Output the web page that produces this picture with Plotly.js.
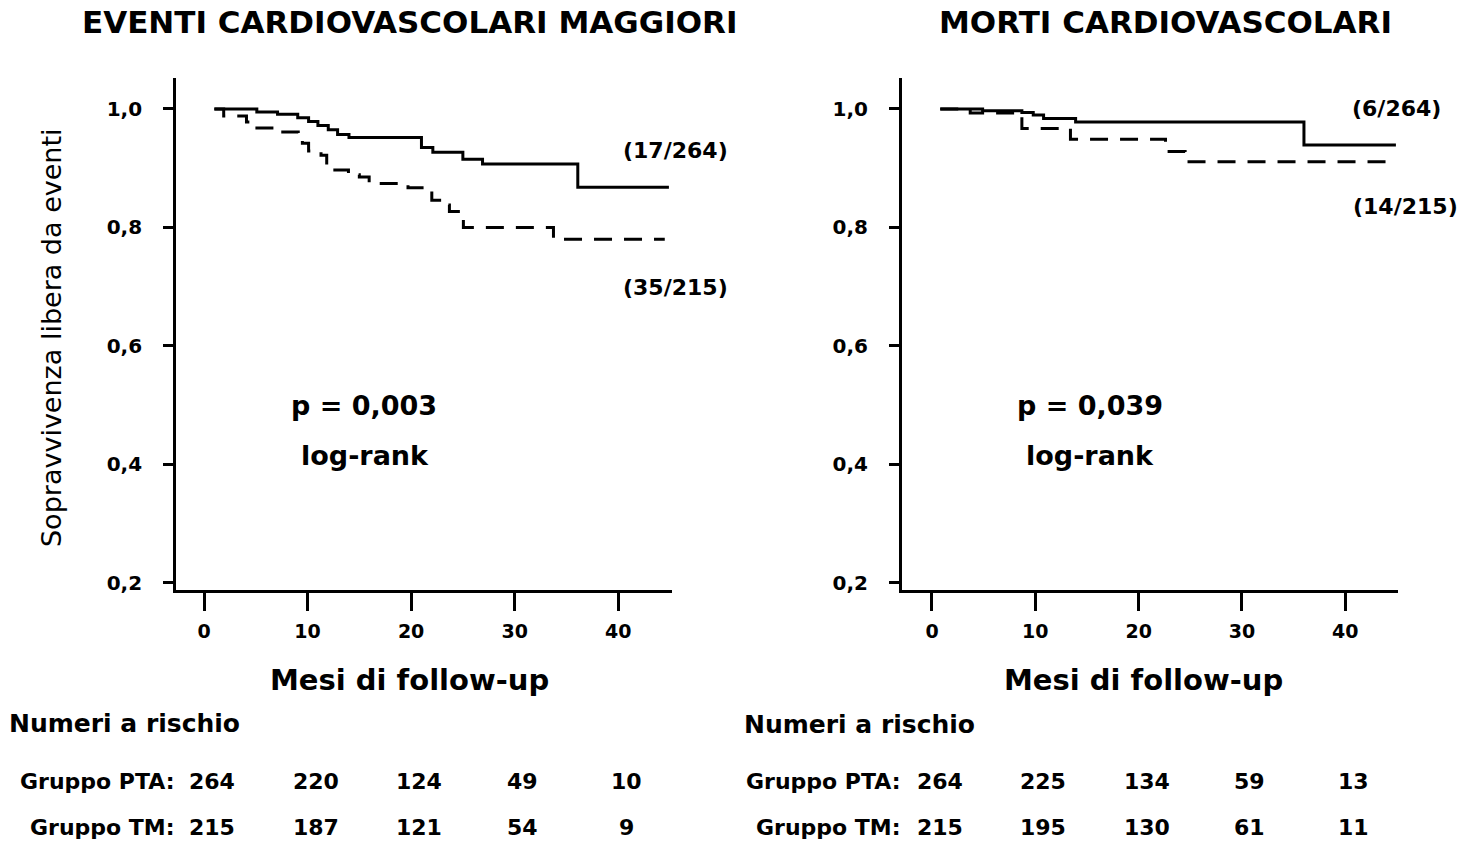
<!DOCTYPE html>
<html>
<head>
<meta charset="utf-8">
<script src="https://cdn.plot.ly/plotly-3.0.1.min.js"></script>
<style>html,body{margin:0;padding:0;background:#fff;}#chart{width:1466px;height:842px;}</style>
</head>
<body>
<div id="chart"></div>
<script>
// ---- Data ----
// Panel 1: EVENTI CARDIOVASCOLARI MAGGIORI
const mace_pta_t = [1, 5.1, 7.1, 9.05, 10.1, 11.0, 12.0, 12.9, 14.0, 21.0, 22.1, 25.0, 26.9, 36.1, 44.9];
const mace_pta_s = [1.0, 0.995, 0.991, 0.985, 0.979, 0.972, 0.965, 0.957, 0.952, 0.935, 0.927, 0.915, 0.907, 0.868, 0.868];
const mace_tm_t = [1, 1.9, 4.1, 4.9, 7.3, 9.1, 9.5, 10.1, 11.3, 11.85, 13.95, 15.0, 15.95, 19.7, 22.0, 23.1, 23.7, 25.05, 33.75, 44.5];
const mace_tm_s = [1.0, 0.988, 0.978, 0.968, 0.961, 0.953, 0.942, 0.929, 0.922, 0.897, 0.889, 0.885, 0.874, 0.867, 0.846, 0.838, 0.827, 0.800, 0.780, 0.780];
// Panel 2: MORTI CARDIOVASCOLARI
const cvd_pta_t = [0.8, 4.9, 8.7, 9.8, 10.8, 13.9, 36.0, 44.9];
const cvd_pta_s = [1.0, 0.997, 0.994, 0.990, 0.984, 0.978, 0.939, 0.939];
const cvd_tm_t = [0.8, 3.7, 8.7, 13.4, 22.6, 24.5, 44.0];
const cvd_tm_s = [1.0, 0.993, 0.967, 0.949, 0.928, 0.911, 0.911];

const xTicks = [0, 10, 20, 30, 40];
const yTicks = [0.2, 0.4, 0.6, 0.8, 1.0];

const panelTitles = ["EVENTI CARDIOVASCOLARI MAGGIORI", "MORTI CARDIOVASCOLARI"];
const xTitle = "Mesi di follow-up";
const yTitle = "Sopravvivenza libera da eventi";
const pValues = ["p = 0,003", "p = 0,039"];
const testLabel = "log-rank";
const eventsPTA = ["(17/264)", "(6/264)"];
const eventsTM = ["(35/215)", "(14/215)"];

const riskHeader = "Numeri a rischio";
const groupLabels = ["Gruppo PTA:", "Gruppo TM:"];
const riskTimes = [0, 10, 20, 30, 40];
const risk1_pta = [264, 220, 124, 49, 10];
const risk1_tm  = [215, 187, 121, 54, 9];
const risk2_pta = [264, 225, 134, 59, 13];
const risk2_tm  = [215, 195, 130, 61, 11];

// ---- Styling ----
const FF = "DejaVu Sans, Liberation Sans, Arial, sans-serif";
const bold = (size) => ({family: FF, size: size, color: "#000", weight: "bold"});
const solid = {color: "#000", width: 3, shape: "hv"};
const dashed = {color: "#000", width: 3, shape: "hv", dash: "18px,12px"};

const traces = [
  {x: mace_pta_t, y: mace_pta_s, xaxis: "x", yaxis: "y", mode: "lines", line: solid, hoverinfo: "skip"},
  {x: mace_tm_t, y: mace_tm_s, xaxis: "x", yaxis: "y", mode: "lines", line: dashed, hoverinfo: "skip"},
  {x: cvd_pta_t, y: cvd_pta_s, xaxis: "x2", yaxis: "y2", mode: "lines", line: solid, hoverinfo: "skip"},
  {x: cvd_tm_t, y: cvd_tm_s, xaxis: "x2", yaxis: "y2", mode: "lines", line: dashed, hoverinfo: "skip"}
];

function xa(domain, range, anchor) {
  return {domain: domain, range: range, anchor: anchor, showline: true, linewidth: 3, linecolor: "#000",
    ticks: "outside", ticklen: 18, tickwidth: 3, tickcolor: "#000", tickvals: xTicks,
    showgrid: false, zeroline: false, tickfont: bold(19), ticklabelstandoff: 4, fixedrange: true};
}
function ya(domain, range, anchor) {
  return {domain: domain, range: range, anchor: anchor, showline: true, linewidth: 3, linecolor: "#000",
    ticks: "outside", ticklen: 10, tickwidth: 3, tickcolor: "#000", tickvals: yTicks, tickformat: ".1f",
    showgrid: false, zeroline: false, tickfont: bold(20), ticklabelstandoff: 17, fixedrange: true};
}

const ann = [];
function A(o) { ann.push(Object.assign({showarrow: false}, o)); }

// Panel titles
A({xref: "paper", yref: "paper", x: 0.279, y: 0.9739, text: panelTitles[0], font: bold(31), xanchor: "center", yanchor: "middle"});
A({xref: "paper", yref: "paper", x: 0.7947, y: 0.9739, text: panelTitles[1], font: bold(31), xanchor: "center", yanchor: "middle"});
// X titles
A({xref: "paper", yref: "paper", x: 0.279, y: 0.1924, text: xTitle, font: bold(29), xanchor: "center", yanchor: "middle"});
A({xref: "paper", yref: "paper", x: 0.7797, y: 0.1924, text: xTitle, font: bold(29), xanchor: "center", yanchor: "middle"});
// Y title
A({xref: "paper", yref: "paper", x: 0.0355, y: 0.5986, text: yTitle, textangle: -90,
   font: {family: FF, size: 27, color: "#000"}, xanchor: "center", yanchor: "middle"});
// Labels, panel 1
A({xref: "paper", yref: "paper", x: 0.4611, y: 0.8207, text: eventsPTA[0], font: bold(22), xanchor: "center", yanchor: "middle"});
A({xref: "paper", yref: "paper", x: 0.4611, y: 0.6580, text: eventsTM[0], font: bold(22), xanchor: "center", yanchor: "middle"});
A({xref: "x", yref: "y", x: 15.46, y: 0.500, text: pValues[0], font: bold(27), xanchor: "center", yanchor: "middle"});
A({xref: "x", yref: "y", x: 15.55, y: 0.416, text: testLabel, font: bold(27), xanchor: "center", yanchor: "middle"});
// Labels, panel 2
A({xref: "paper", yref: "paper", x: 0.9529, y: 0.8717, text: eventsPTA[1], font: bold(22), xanchor: "center", yanchor: "middle"});
A({xref: "paper", yref: "paper", x: 0.9584, y: 0.7542, text: eventsTM[1], font: bold(22), xanchor: "center", yanchor: "middle"});
A({xref: "x2", yref: "y2", x: 15.3, y: 0.500, text: pValues[1], font: bold(27), xanchor: "center", yanchor: "middle"});
A({xref: "x2", yref: "y2", x: 15.3, y: 0.416, text: testLabel, font: bold(27), xanchor: "center", yanchor: "middle"});

// Risk tables
A({xref: "paper", yref: "paper", x: 0.0050, y: 0.1413, text: riskHeader, font: bold(25), xanchor: "left", yanchor: "middle"});
A({xref: "paper", yref: "paper", x: 0.5058, y: 0.1390, text: riskHeader, font: bold(25), xanchor: "left", yanchor: "middle"});
const rowY = [0.0724, 0.0178];
A({xref: "paper", yref: "paper", x: 0.1205, y: rowY[0], text: groupLabels[0], font: bold(22), xanchor: "right", yanchor: "middle"});
A({xref: "paper", yref: "paper", x: 0.1205, y: rowY[1], text: groupLabels[1], font: bold(22), xanchor: "right", yanchor: "middle"});
A({xref: "paper", yref: "paper", x: 0.6160, y: rowY[0], text: groupLabels[0], font: bold(22), xanchor: "right", yanchor: "middle"});
A({xref: "paper", yref: "paper", x: 0.6160, y: rowY[1], text: groupLabels[1], font: bold(22), xanchor: "right", yanchor: "middle"});
function riskRow(xref, vals, y) {
  vals.forEach((v, i) => A({xref: xref, yref: "paper", x: riskTimes[i], xshift: 8, y: y, text: String(v),
    font: bold(22), xanchor: "center", yanchor: "middle"}));
}
riskRow("x", risk1_pta, rowY[0]);
riskRow("x", risk1_tm, rowY[1]);
riskRow("x2", risk2_pta, rowY[0]);
riskRow("x2", risk2_tm, rowY[1]);

const layout = {
  width: 1466, height: 842,
  margin: {l: 0, r: 0, t: 0, b: 0},
  paper_bgcolor: "#fff", plot_bgcolor: "#fff",
  separators: ",.",
  showlegend: false,
  font: {family: FF, color: "#000"},
  xaxis: xa([0.1201, 0.4584], [-2.7, 45.2], "y"),
  yaxis: ya([0.2993, 0.9074], [0.1882, 1.0523], "x"),
  xaxis2: xa([0.6153, 0.9536], [-2.9, 45.1], "y2"),
  yaxis2: ya([0.2993, 0.9074], [0.1882, 1.0523], "x2"),
  annotations: ann
};

Plotly.newPlot("chart", traces, layout, {staticPlot: true, displayModeBar: false});
</script>
</body>
</html>
